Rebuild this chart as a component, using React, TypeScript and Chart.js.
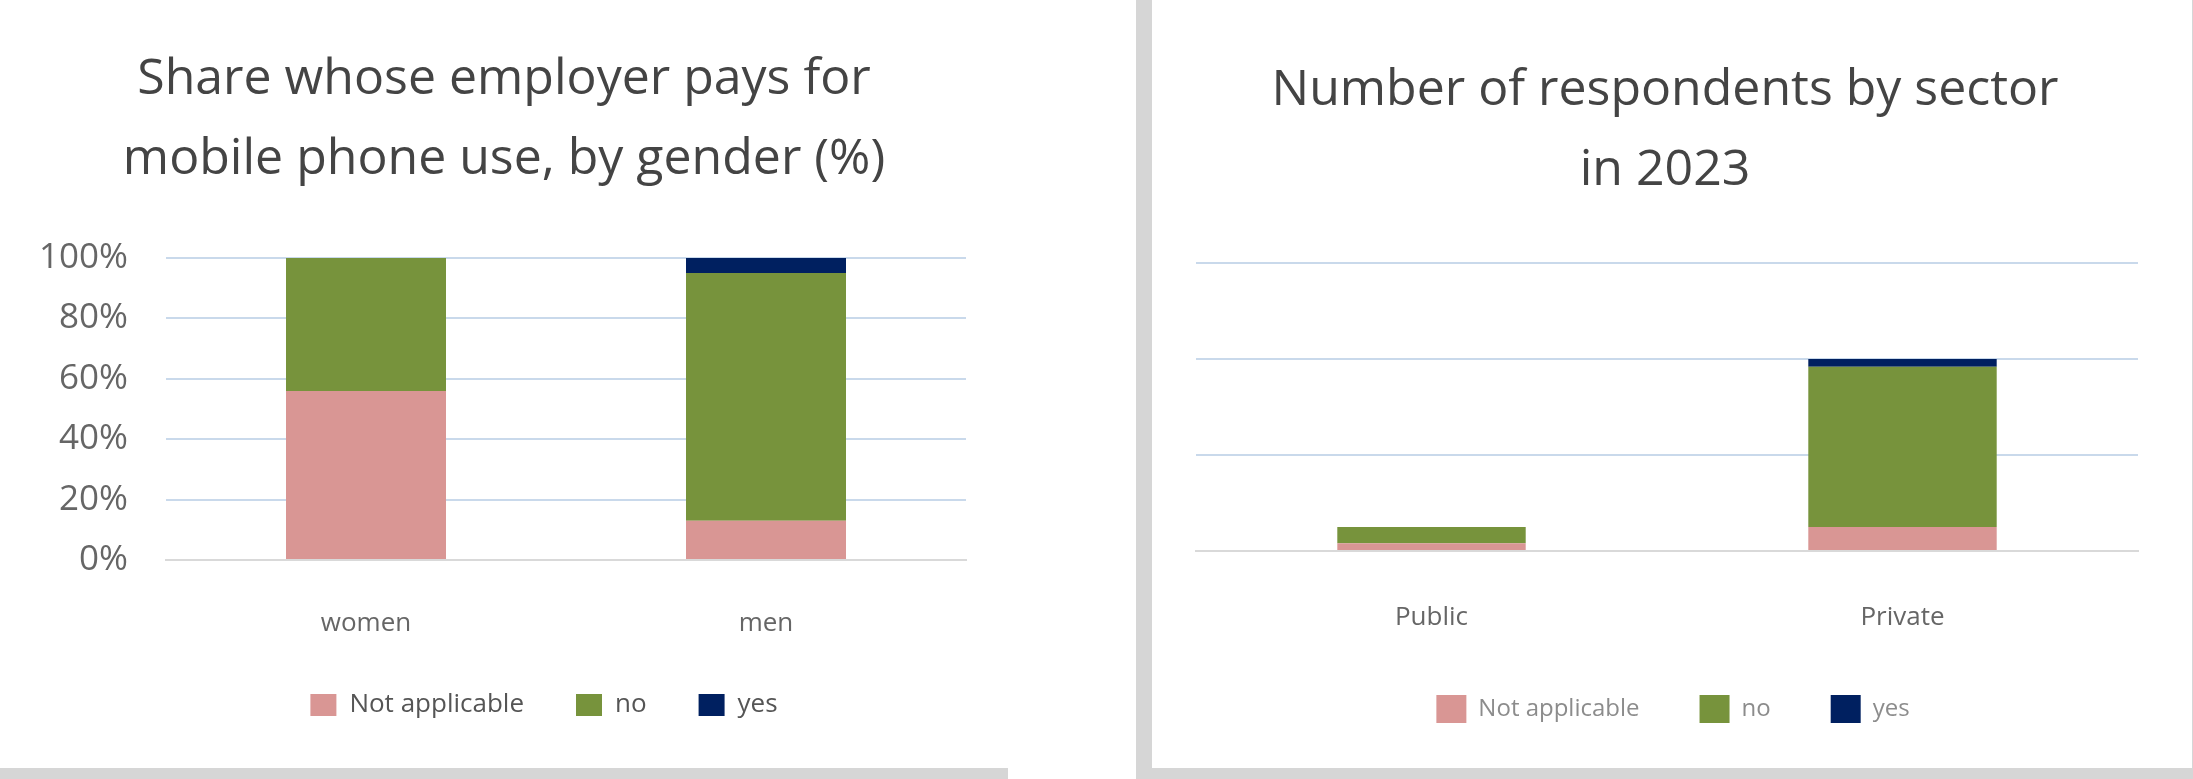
import { useEffect, useRef } from 'react';
import { Chart, registerables } from 'chart.js';

Chart.register(...registerables);

const FONT = "'Open Sans', sans-serif";

const seriesNames = ['Not applicable', 'no', 'yes'];
const seriesColors = ['#d99694', '#77933c', '#002060'];

// left panel: shares, in percent
const leftTitle = ['Share whose employer pays for', 'mobile phone use, by gender (%)'];
const leftCategories = ['women', 'men'];
const leftNotApplicable = [56, 13];
const leftNo = [44, 82];
const leftYes = [0, 5];
const leftTicks = [0, 20, 40, 60, 80, 100];

// right panel: number of respondents
const rightTitle = ['Number of respondents by sector', 'in 2023'];
const rightCategories = ['Public', 'Private'];
const rightNotApplicable = [8, 25];
const rightNo = [17, 167];
const rightYes = [0, 8];
const rightTicks = [0, 100, 200, 300];

const GRID = '#c9d9eb';
const AXIS = '#d9d9d9';

function datasets(values: number[][]) {
  return values.map((data, i) => ({
    label: seriesNames[i],
    data,
    backgroundColor: seriesColors[i],
    borderWidth: 0,
    barPercentage: 0.4,
    categoryPercentage: 1,
  }));
}

// moves the legend sideways after chart.js has placed it
function shiftLegend(dx: number) {
  return {
    id: 'shiftLegend',
    afterLayout(chart: any) {
      if (!chart.legend) return;
      chart.legend.left += dx;
      chart.legend.right += dx;
    },
  };
}

function LeftChart() {
  const canvasRef = useRef<HTMLCanvasElement>(null);

  useEffect(() => {
    if (!canvasRef.current) return;
    const chart = new Chart(canvasRef.current, {
      type: 'bar',
      data: {
        labels: leftCategories,
        datasets: datasets([leftNotApplicable, leftNo, leftYes]),
      },
      plugins: [shiftLegend(-22)],
      options: {
        responsive: false,
        animation: false,
        layout: { padding: { left: 42, right: 41, top: 0, bottom: 40 } },
        plugins: {
          tooltip: { enabled: false },
          title: {
            display: true,
            text: leftTitle,
            color: '#444444',
            font: { family: FONT, size: 50, weight: 'normal', lineHeight: 80 / 50 },
            padding: { top: 40, bottom: 58 },
          },
          legend: {
            position: 'bottom',
            fullSize: false,
            labels: {
              boxWidth: 26,
              boxHeight: 22,
              padding: 52,
              color: '#555555',
              font: { family: FONT, size: 26 },
            },
          },
        },
        scales: {
          x: {
            stacked: true,
            grid: { display: false },
            border: { display: true, color: AXIS, width: 2 },
            ticks: { color: '#666666', padding: 40, font: { family: FONT, size: 26 } },
            afterFit: (scale) => { scale.height = 80; },
          },
          y: {
            stacked: true,
            min: 0,
            max: 100,
            border: { display: false },
            grid: {
              drawTicks: false,
              lineWidth: 2,
              color: (ctx) => (ctx.tick && ctx.tick.value === 0 ? 'rgba(0,0,0,0)' : GRID),
            },
            afterBuildTicks: (scale) => { scale.ticks = leftTicks.map((value) => ({ value })); },
            ticks: {
              color: '#666666',
              padding: 38,
              font: { family: FONT, size: 35 },
              callback: (value) => `${value}%`,
            },
            afterFit: (scale) => { scale.width = 124; },
          },
        },
      },
    });
    return () => chart.destroy();
  }, []);

  return (
    <canvas
      ref={canvasRef}
      width={1007}
      height={768}
      style={{ position: 'absolute', left: 0, top: 0 }}
    />
  );
}

function RightChart() {
  const canvasRef = useRef<HTMLCanvasElement>(null);

  useEffect(() => {
    if (!canvasRef.current) return;
    const chart = new Chart(canvasRef.current, {
      type: 'bar',
      data: {
        labels: rightCategories,
        datasets: datasets([rightNotApplicable, rightNo, rightYes]),
      },
      plugins: [shiftLegend(6)],
      options: {
        responsive: false,
        animation: false,
        layout: { padding: { left: 40, right: 54, top: 0, bottom: 35 } },
        plugins: {
          tooltip: { enabled: false },
          title: {
            display: true,
            text: rightTitle,
            color: '#444444',
            font: { family: FONT, size: 50, weight: 'normal', lineHeight: 80 / 50 },
            padding: { top: 51, bottom: 52 },
          },
          legend: {
            position: 'bottom',
            fullSize: false,
            labels: {
              boxWidth: 30,
              boxHeight: 28,
              padding: 60,
              color: '#8c8c8c',
              font: { family: FONT, size: 24 },
            },
          },
        },
        scales: {
          x: {
            stacked: true,
            grid: { display: false },
            border: { display: true, color: AXIS, width: 2 },
            ticks: { color: '#666666', padding: 43, font: { family: FONT, size: 26 } },
            afterFit: (scale) => { scale.height = 84; },
          },
          y: {
            stacked: true,
            min: 0,
            max: 300,
            border: { display: false },
            grid: {
              drawTicks: false,
              lineWidth: 2,
              color: (ctx) => (ctx.tick && ctx.tick.value === 0 ? 'rgba(0,0,0,0)' : GRID),
            },
            afterBuildTicks: (scale) => { scale.ticks = rightTicks.map((value) => ({ value })); },
            ticks: { display: false },
            afterFit: (scale) => { scale.width = 4; },
          },
        },
      },
    });
    return () => chart.destroy();
  }, []);

  return (
    <canvas
      ref={canvasRef}
      width={1040}
      height={768}
      style={{ position: 'absolute', left: 1152, top: 0 }}
    />
  );
}

export default function App() {
  useEffect(() => {
    document.body.style.margin = '0';
  }, []);

  const band = '#d6d6d6';
  return (
    <div style={{ position: 'relative', width: 2193, height: 779, background: '#ffffff', overflow: 'hidden' }}>
      <LeftChart />
      <RightChart />
      <div style={{ position: 'absolute', left: 0, top: 768, width: 1008, height: 11, background: band }} />
      <div style={{ position: 'absolute', left: 1136, top: 0, width: 16, height: 779, background: band }} />
      <div style={{ position: 'absolute', left: 1136, top: 768, width: 1057, height: 11, background: band }} />
      <div style={{ position: 'absolute', left: 2192, top: 0, width: 1, height: 779, background: band }} />
    </div>
  );
}
